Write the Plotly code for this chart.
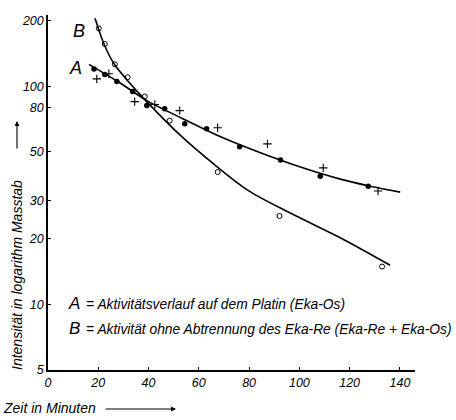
import plotly.graph_objects as go
import math

# --- data ---
a_dot_t = [18.3, 22.6, 27.4, 33.7, 39.3, 46.4, 54.4, 63.1, 76.2, 92.5, 108.3, 127.4]
a_dot_v = [120, 113, 105, 94.5, 81.5, 78.9, 67.3, 63.8, 52.7, 45.9, 38.7, 34.8]

a_cross_t = [19.4, 24.2, 34.5, 42.5, 52.4, 67.5, 87.3, 109.5, 131.3]
a_cross_v = [108, 114, 85, 82.4, 77.3, 64.5, 54.4, 42.2, 33.1]

b_circ_t = [20.2, 22.6, 26.6, 31.7, 38.5, 48.4, 67.5, 92.1, 132.9]
b_circ_v = [184, 156, 126, 110, 89.7, 69.5, 40.4, 25.4, 14.9]

a_curve_t = [16.3, 29.0, 39.3, 52.8, 68.7, 84.5, 100.4, 116.3, 128.2, 140.1]
a_curve_v = [125.9, 102.9, 85.9, 71.7, 58.6, 49.5, 42.6, 37.5, 34.8, 32.7]

b_curve_t = [18.7, 22.2, 26.2, 31.7, 38.9, 52.8, 65.9, 79.4, 96.4, 115.1, 125.4, 136.1]
b_curve_v = [205, 157, 127, 106, 85.9, 59.3, 44.0, 33.4, 26.2, 20.5, 17.7, 15.1]

x_ticks = [0, 20, 40, 60, 80, 100, 120, 140]
y_ticks = [5, 10, 20, 30, 50, 80, 100, 200]

legend_a = "= Aktivitätsverlauf auf dem Platin (Eka-Os)"
legend_b = "= Aktivität ohne Abtrennung des Eka-Re (Eka-Re + Eka-Os)"
y_title = "Intensität in logarithm Masstab"
x_title = "Zeit in Minuten"

FONT = "Liberation Sans, Arial"
W, H = 456, 420
L, R, T, B = 48, 41, 15, 50
PW, PH = W - L - R, H - T - B


def pp(px, py):
    return (px - L) / PW, (H - B - py) / PH


fig = go.Figure()
line_style = dict(color="black", width=1.6, shape="spline", smoothing=0.9)
fig.add_trace(go.Scatter(x=a_curve_t, y=a_curve_v, mode="lines", line=line_style, hoverinfo="skip"))
fig.add_trace(go.Scatter(x=b_curve_t, y=b_curve_v, mode="lines", line=line_style, hoverinfo="skip"))
fig.add_trace(go.Scatter(x=a_dot_t, y=a_dot_v, mode="markers",
                         marker=dict(symbol="circle", size=5.5, color="black")))
fig.add_trace(go.Scatter(x=a_cross_t, y=a_cross_v, mode="markers",
                         marker=dict(symbol="cross-thin", size=6, color="black",
                                     line=dict(width=1.1, color="black"))))
fig.add_trace(go.Scatter(x=b_circ_t, y=b_circ_v, mode="markers",
                         marker=dict(symbol="circle-open", size=5, color="black",
                                     line=dict(width=1, color="black"))))

ann = []


def text(px, py, s, size, xanchor="center", angle=0):
    x, y = pp(px, py)
    ann.append(dict(xref="paper", yref="paper", x=x, y=y, text=s, showarrow=False,
                    xanchor=xanchor, yanchor="middle", textangle=angle,
                    font=dict(family=FONT, size=size, color="black", style="italic")))


text(79, 31, "B", 18)
text(75, 68, "A", 18)
text(74, 303, "A", 17)
text(84, 304, legend_a, 13.8, xanchor="left")
text(74, 328, "B", 17)
text(84, 329, legend_b, 13.8, xanchor="left")
text(17, 275, y_title, 14, angle=-90)
text(1, 408, x_title, 14, xanchor="left")

# arrows (head position in paper coords, tail as pixel offset)
for (x0, y0, x1, y1) in [(17, 150, 17, 121), (104, 409, 176, 409)]:
    hx, hy = pp(x1, y1)
    ann.append(dict(xref="paper", yref="paper", x=hx, y=hy, ax=x0 - x1, ay=y0 - y1,
                    text="", showarrow=True,
                    arrowhead=2, arrowsize=0.9, arrowwidth=1.1, arrowcolor="black"))

tickfont = dict(family=FONT, size=12.5, color="black", style="italic")
fig.update_layout(
    width=W, height=H, margin=dict(l=L, r=R, t=T, b=B),
    paper_bgcolor="white", plot_bgcolor="white", showlegend=False,
    annotations=ann,
    xaxis=dict(range=[0, 146], tickvals=x_ticks, ticktext=[str(v) for v in x_ticks],
               showgrid=False, zeroline=False, showline=True, linecolor="black", linewidth=1.5,
               ticks="inside", ticklen=3, tickcolor="black", tickfont=tickfont, automargin=False),
    yaxis=dict(type="log", range=[math.log10(5), math.log10(212)], tickvals=y_ticks,
               ticktext=[str(v) for v in y_ticks],
               showgrid=False, zeroline=False, showline=True, linecolor="black", linewidth=1.5,
               ticks="inside", ticklen=3, tickcolor="black", tickfont=tickfont, automargin=False),
)
fig.write_html("out.html", config={"displayModeBar": False},
               post_script="document.body.style.margin='0px';document.body.style.padding='0px';")
